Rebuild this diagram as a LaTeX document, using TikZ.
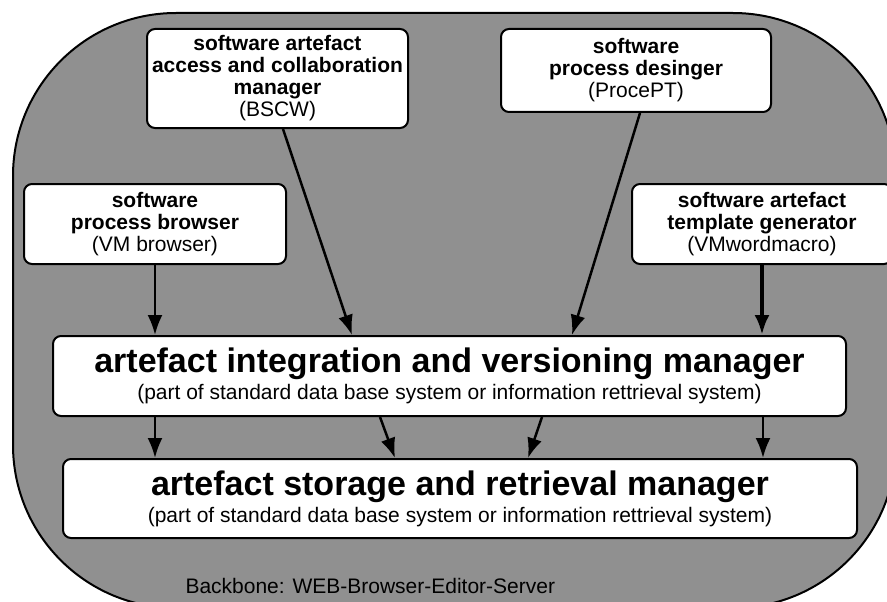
\documentclass[tikz,border=0pt]{standalone}
\usepackage{fontspec}
\setmainfont{Liberation Sans}
\usetikzlibrary{arrows.meta}
\definecolor{backbonegray}{RGB}{144,144,144}
\begin{document}
\begin{tikzpicture}[x=1pt,y=-1pt,
  tool/.style={draw=black, line width=2pt, fill=white, rounded corners=8pt,
    align=center, inner sep=0pt, font=\fontsize{21}{22}\selectfont},
  layer/.style={tool, font=\fontsize{21}{27}\selectfont},
  arr/.style={line width=2.5pt, -{Latex[length=20pt,width=15pt]}},
  thickarr/.style={arr, line width=4.5pt},
]
\useasboundingbox (0,0) rectangle (887,602);
\clip (0,0) rectangle (887,602);

% backbone area
\draw[line width=2pt, fill=backbonegray, rounded corners=163pt]
  (13,13) rectangle (896,608);

% tools
\node[tool, minimum width=261pt, minimum height=99pt] (bscw) at (277.5,78.5)
  {\textbf{software artefact}\\\textbf{access and collaboration}\\\textbf{manager}\\(BSCW)};
\node[tool, minimum width=270pt, minimum height=83pt] (procept) at (636,70.5)
  {\textbf{software}\\\textbf{process desinger}\\(ProcePT)};
\node[tool, minimum width=262pt, minimum height=80pt] (vmb) at (155,224)
  {\textbf{software}\\\textbf{process browser}\\(VM browser)};
\node[tool, minimum width=260pt, minimum height=80pt] (vmw) at (762,224)
  {\textbf{software artefact}\\\textbf{template generator}\\(VMwordmacro)};

% managers
\node[layer, minimum width=793pt, minimum height=80pt] (integ) at (449.5,376)
  {{\fontsize{34}{34}\selectfont\bfseries artefact integration and versioning manager}\\
   (part of standard data base system or information rettrieval system)};
\node[layer, minimum width=794pt, minimum height=79pt] (store) at (460,498.5)
  {{\fontsize{34}{34}\selectfont\bfseries artefact storage and retrieval manager}\\
   (part of standard data base system or information rettrieval system)};

\node[anchor=base west, font=\fontsize{21}{22}\selectfont] (bbl) at (182,593)
  {Backbone: WEB-Browser-Editor-Server};

% connectors
\draw[arr] (vmb.south) -- ([xshift=-294.5pt]integ.north);
\draw[arr] ([xshift=5.5pt]bscw.south) -- ([xshift=-97.5pt]integ.north);
\draw[arr] ([xshift=4pt]procept.south) -- ([xshift=122.5pt]integ.north);
\draw[thickarr] (vmw.south) -- ([xshift=312.5pt]integ.north);

\draw[arr] ([xshift=-294.5pt]integ.south) -- ([xshift=-305pt]store.north);
\draw[arr] ([xshift=-69.5pt]integ.south) -- ([xshift=-65pt]store.north);
\draw[arr] ([xshift=92.5pt]integ.south) -- ([xshift=68pt]store.north);
\draw[arr] ([xshift=313.5pt]integ.south) -- ([xshift=303pt]store.north);
\end{tikzpicture}
\end{document}
